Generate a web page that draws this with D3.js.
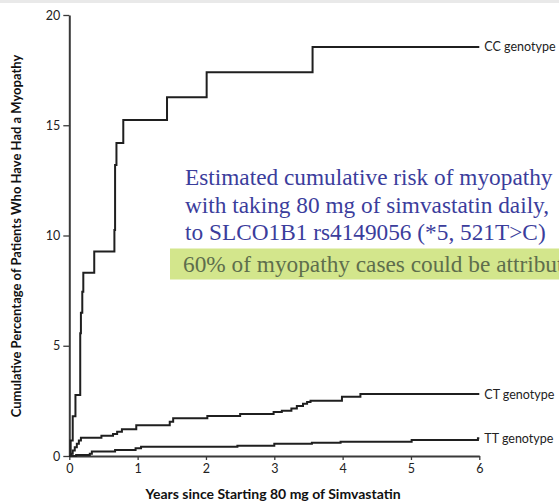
<!DOCTYPE html>
<html>
<head>
<meta charset="utf-8">
<script src="https://cdn.jsdelivr.net/npm/d3@7"></script>
<style>
  html, body { margin: 0; padding: 0; background: #fff; overflow: hidden; }
  svg { display: block; }
</style>
</head>
<body>
<script>
// Kaplan–Meier style cumulative myopathy curves by SLCO1B1 genotype
// years since start, cumulative percentage (step changes)
const ccYears = [0, 0.02, 0.05, 0.09, 0.16, 0.17, 0.19, 0.205, 0.365, 0.66, 0.67, 0.69, 0.79, 1.43, 2.01, 3.56, 6];
const ccPct   = [0, 0.7, 1.8, 2.77, 5.57, 6.5, 7.45, 8.31, 9.27, 10.25, 13.2, 14.2, 15.24, 16.27, 17.4, 18.55, 18.55];

const ctYears = [0, 0.03, 0.05, 0.08, 0.11, 0.14, 0.17, 0.47, 0.64, 0.7, 0.77, 0.98, 1.47, 1.52, 2.02, 2.5, 2.99, 3.11, 3.25, 3.33, 3.42, 3.48, 3.53, 3.99, 4.26, 6];
const ctPct   = [0, 0.1, 0.25, 0.4, 0.55, 0.7, 0.83, 0.92, 1.0, 1.1, 1.21, 1.4, 1.55, 1.71, 1.81, 1.9, 2.0, 2.05, 2.15, 2.27, 2.37, 2.45, 2.51, 2.69, 2.81, 2.81];

const ttYears = [0, 0.1, 0.3, 0.33, 0.67, 0.97, 1.05, 2.46, 3.0, 3.55, 3.97, 5.01, 5.98, 6];
const ttPct   = [0, 0.05, 0.1, 0.2, 0.27, 0.35, 0.42, 0.47, 0.55, 0.6, 0.65, 0.73, 0.8, 0.8];

const seriesNames = ["CC genotype", "CT genotype", "TT genotype"];
const xTicks = [0, 1, 2, 3, 4, 5, 6];
const yTicks = [0, 5, 10, 15, 20];

const noteLines = [
  "Estimated cumulative risk of myopathy",
  "with taking 80 mg of simvastatin daily,",
  "to SLCO1B1 rs4149056 (*5, 521T>C)",
];
const noteHighlight = "60% of myopathy cases could be attributed";

const W = 559, H = 504;
const svg = d3.select("body").append("svg").attr("width", W).attr("height", H);

// faint band along the top edge
svg.append("rect").attr("x", 0).attr("y", 0).attr("width", W).attr("height", 3).attr("fill", "#e9e9e9");

const x = d3.scaleLinear().domain([0, 6]).range([69.3, 479.3]);
const y = d3.scaleLinear().domain([0, 20]).range([456, 15]);

const axisFont = "Lato, 'Open Sans', 'DejaVu Sans', sans-serif";
const fmt = d3.format("d");

// y axis
const yAxis = svg.append("g").attr("transform", `translate(${x(0)},0)`)
  .call(d3.axisLeft(y).tickValues(yTicks).tickFormat(fmt).tickSize(6).tickSizeOuter(0).tickPadding(3));
// x axis
const xAxis = svg.append("g").attr("transform", `translate(0,${y(0)})`)
  .call(d3.axisBottom(x).tickValues(xTicks).tickFormat(fmt).tickSize(4).tickSizeOuter(0).tickPadding(4));

[yAxis, xAxis].forEach(g => {
  g.select(".domain").attr("stroke", "#3a3a3a").attr("stroke-width", 2);
  g.selectAll(".tick line").attr("stroke", "#3a3a3a").attr("stroke-width", 1.3);
  g.selectAll(".tick text").attr("font-family", axisFont).attr("font-size", 12.5).attr("fill", "#222");
});

// axis titles
svg.append("text")
  .attr("x", 273).attr("y", 499)
  .attr("text-anchor", "middle")
  .attr("font-family", axisFont).attr("font-weight", "bold").attr("font-size", 14)
  .attr("fill", "#111")
  .text("Years since Starting 80 mg of Simvastatin");

svg.append("text")
  .attr("transform", `translate(21,236) rotate(-90)`)
  .attr("text-anchor", "middle")
  .attr("font-family", axisFont).attr("font-weight", "bold").attr("font-size", 13)
  .attr("fill", "#111")
  .text("Cumulative Percentage of Patients Who Have Had a Myopathy");

// step curves
const line = d3.line().x(d => x(d[0])).y(d => y(d[1])).curve(d3.curveStepAfter);
const series = [
  d3.zip(ccYears, ccPct),
  d3.zip(ctYears, ctPct),
  d3.zip(ttYears, ttPct),
];
series.forEach((pts, i) => {
  svg.append("path")
    .attr("d", line(pts))
    .attr("fill", "none")
    .attr("stroke", "#1f1f1f")
    .attr("stroke-width", 2)
    .attr("stroke-linejoin", "miter");
  const last = pts[pts.length - 1];
  svg.append("text")
    .attr("x", x(6) + 5).attr("y", y(last[1]) + 4.5)
    .attr("font-family", axisFont).attr("font-size", 12.5)
    .attr("fill", "#222")
    .text(seriesNames[i]);
});

// annotation block
const noteFont = "'Liberation Serif', 'Times New Roman', serif";
noteLines.forEach((t, i) => {
  svg.append("text")
    .attr("x", 185).attr("y", 185 + i * 27.5)
    .attr("font-family", noteFont).attr("font-size", 23.3)
    .attr("fill", "#3b3d9c")
    .text(t);
});
svg.append("rect")
  .attr("x", 170).attr("y", 248.5).attr("width", W - 170).attr("height", 31)
  .attr("fill", "#d3e68c");
svg.append("text")
  .attr("x", 183).attr("y", 272)
  .attr("font-family", noteFont).attr("font-size", 23.3)
  .attr("fill", "#5e6e4c")
  .text(noteHighlight);
</script>
</body>
</html>
